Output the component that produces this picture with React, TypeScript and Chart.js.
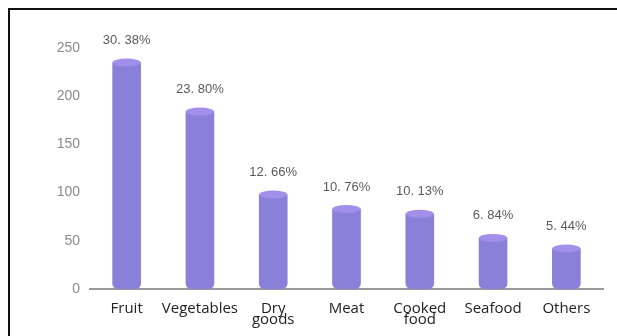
import React, { useEffect, useRef } from "react";
import { Chart, registerables } from "chart.js";

Chart.register(...registerables);

const categories: (string | string[])[] = [
  "Fruit",
  "Vegetables",
  ["Dry", "goods"],
  "Meat",
  ["Cooked", "food"],
  "Seafood",
  "Others",
];
const values = [235, 184, 98, 83, 78, 53, 42];
const shareLabels = ["30. 38%", "23. 80%", "12. 66%", "10. 76%", "10. 13%", "6. 84%", "5. 44%"];
const yTicks = [0, 50, 100, 150, 200, 250];

const BODY = "rgb(138,127,217)";
const TOP = "rgb(162,143,234)";

const cylinderPlugin = {
  id: "cylinder",
  afterDatasetsDraw(chart: any) {
    const ctx = chart.ctx;
    const meta = chart.getDatasetMeta(0);
    ctx.save();
    meta.data.forEach((bar: any, i: number) => {
      const { x, y, width } = bar.getProps(["x", "y", "width"], true);
      ctx.beginPath();
      ctx.ellipse(x, y, width / 2, 4, 0, 0, Math.PI * 2);
      ctx.fillStyle = TOP;
      ctx.fill();
      ctx.fillStyle = "#5a5a5a";
      ctx.font = "13px 'Liberation Sans', Arial, sans-serif";
      ctx.textAlign = "center";
      ctx.textBaseline = "middle";
      ctx.fillText(shareLabels[i], x, y - 22);
    });
    ctx.restore();
  },
};

export default function App() {
  const ref = useRef<HTMLCanvasElement>(null);
  useEffect(() => {
    if (!ref.current) return;
    const chart = new Chart(ref.current, {
      type: "bar",
      data: {
        labels: categories as any,
        datasets: [
          {
            data: values,
            backgroundColor: BODY,
            barThickness: 28,
            borderSkipped: false,
            borderRadius: { topLeft: 0, topRight: 0, bottomLeft: 6, bottomRight: 6 },
          },
        ],
      },
      options: {
        animation: false,
        responsive: false,
        maintainAspectRatio: false,
        layout: { padding: { top: 48, left: 10, right: 14, bottom: 0 } },
        plugins: { legend: { display: false }, tooltip: { enabled: false } },
        scales: {
          x: {
            grid: { display: false, drawTicks: false },
            border: { display: true, color: "#9a9a9a", width: 2 },
            ticks: {
              color: "#222",
              padding: 14,
              maxRotation: 0,
              autoSkip: false,
              font: { family: "'Open Sans', sans-serif", size: 15, lineHeight: 0.75 },
            },
            afterFit: (s: any) => {
              s.height = 47;
            },
          },
          y: {
            min: 0,
            max: 250,
            afterBuildTicks: (s: any) => {
              s.ticks = yTicks.map((v) => ({ value: v }));
            },
            grid: { display: false, drawTicks: false },
            border: { display: false },
            ticks: {
              color: "#8a8a8a",
              padding: 10,
              font: { family: "'Liberation Sans', Arial, sans-serif", size: 14 },
            },
            afterFit: (s: any) => {
              s.width = 80;
            },
          },
        },
      },
      plugins: [cylinderPlugin],
    });
    return () => chart.destroy();
  }, []);

  return (
    <div style={{ position: "fixed", left: 0, top: 0, width: 617, height: 336, background: "#fff" }}>
      <div
        style={{
          position: "absolute",
          left: 8,
          top: 8,
          width: 620,
          height: 340,
          borderLeft: "2px solid #111",
          borderTop: "2px solid #111",
        }}
      />
      <canvas ref={ref} width={617} height={336} style={{ position: "absolute", left: 0, top: 0 }} />
    </div>
  );
}
